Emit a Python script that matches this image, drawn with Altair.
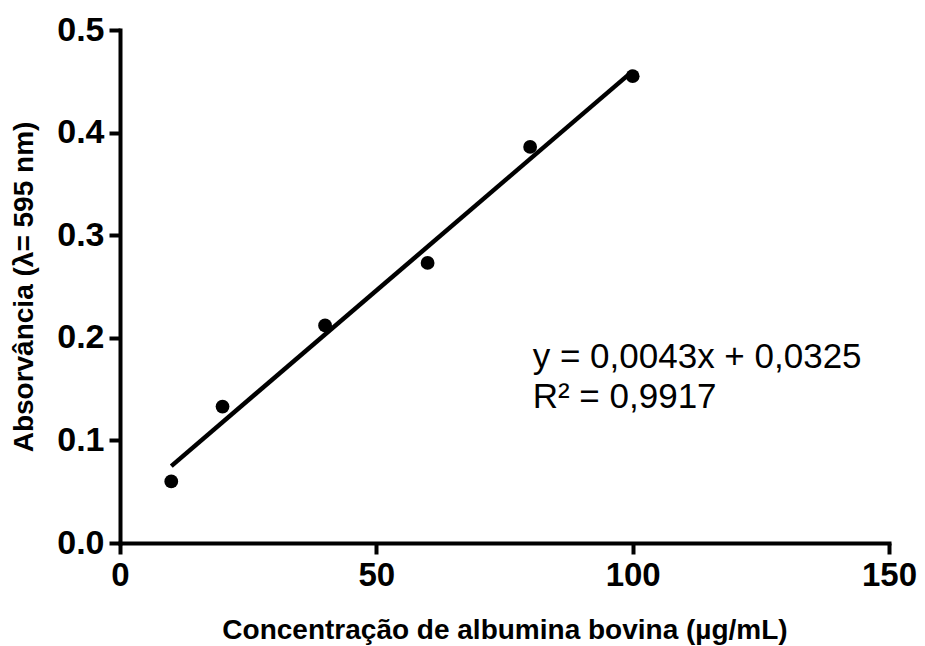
import altair as alt
import pandas as pd

conc = [10, 20, 40, 60, 80, 100]
absorb = [0.060, 0.133, 0.212, 0.273, 0.386, 0.455]
eq_lines = ["y = 0,0043x + 0,0325", "R² = 0,9917"]
eq_x = [80.5]
eq_y = [0.181]

df = pd.DataFrame({"x": conc, "y": absorb})
ann = pd.DataFrame({"x": eq_x, "y": eq_y, "t": [eq_lines]})

FONT = "Liberation Sans"

xs = alt.Scale(domain=[0, 150], nice=False, zero=True)
ys = alt.Scale(domain=[0, 0.5], nice=False, zero=True)

xax = alt.Axis(values=[0, 50, 100, 150], title="Concentração de albumina bovina (µg/mL)",
               labelFont=FONT, labelFontSize=33, labelFontWeight="bold", labelColor="black",
               titleFont=FONT, titleFontSize=28, titleFontWeight="bold", titleColor="black",
               domainColor="black", domainWidth=4, tickColor="black", tickWidth=4, tickSize=11,
               labelPadding=5, titlePadding=24, grid=False, labelFlush=False, domainCap="square")
yax = alt.Axis(values=[0, 0.1, 0.2, 0.3, 0.4, 0.5], format=".1f", title="Absorvância (λ= 595 nm)",
               labelFont=FONT, labelFontSize=34, labelFontWeight="bold", labelColor="black",
               titleFont=FONT, titleFontSize=28, titleFontWeight="bold", titleColor="black",
               domainColor="black", domainWidth=4, tickColor="black", tickWidth=4, tickSize=11,
               labelPadding=5, titlePadding=18, grid=False, labelFlush=False, domainCap="square")

base = alt.Chart(df)

points = base.mark_circle(color="black", size=190, opacity=1).encode(
    x=alt.X("x:Q", scale=xs, axis=xax),
    y=alt.Y("y:Q", scale=ys, axis=yax),
)

fit = base.transform_regression("x", "y", extent=[10, 100]).mark_line(
    color="black", strokeWidth=4.5
).encode(x=alt.X("x:Q", scale=xs), y=alt.Y("y:Q", scale=ys))

text = alt.Chart(ann).mark_text(
    font=FONT, fontSize=35, color="black", align="left", baseline="middle", lineHeight=40
).encode(x=alt.X("x:Q", scale=xs), y=alt.Y("y:Q", scale=ys), text="t")

chart = (fit + points + text).properties(
    width=769, height=513,
    autosize=alt.AutoSizeParams(type="none"),
    padding={"left": 120, "top": 30, "right": 36, "bottom": 103},
    background="white",
).configure_view(stroke=None)

chart.save("out.html", embed_options={"renderer": "svg", "actions": False})
